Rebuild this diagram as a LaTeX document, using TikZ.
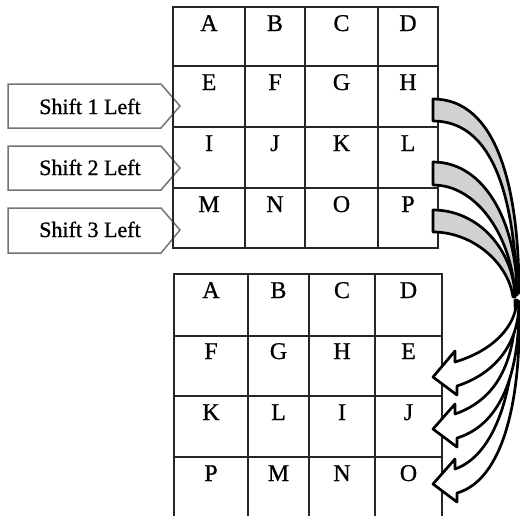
\documentclass[tikz,border=0pt]{standalone}
\usepackage{fontspec}
\setmainfont{Liberation Serif}
\newfontfamily\heavyserif[FakeBold=0.8]{Liberation Serif}
\begin{document}
\begin{tikzpicture}[x=1pt,y=-1pt,
 gridline/.style={draw=black!85,line width=1.3pt},
 cellletter/.style={font=\heavyserif\fontsize{24}{26}\selectfont, inner sep=0pt, anchor=base},
 shiftbox/.style={draw=black!55,line width=1.5pt,line join=miter},
 shifttext/.style={font=\heavyserif\fontsize{22}{24}\selectfont, inner sep=0pt, anchor=base},
 backband/.style={draw=black,line width=2.7pt,fill=black!18,line join=round},
 frontband/.style={draw=black,line width=2.7pt,fill=white,line join=round}]
\useasboundingbox (0,0) rectangle (520,515);

% shift labels
\draw[shiftbox] (8,84) -- (161,84) -- (180,106) -- (161,128) -- (8,128) -- cycle;
\draw[shiftbox] (8,146) -- (161,146) -- (180,168) -- (161,190) -- (8,190) -- cycle;
\draw[shiftbox] (8,208) -- (161,208) -- (180,230) -- (161,253) -- (8,253) -- cycle;
\node[shifttext] (s1) at (90,114) {Shift 1 Left};
\node[shifttext] (s2) at (90,175) {Shift 2 Left};
\node[shifttext] (s3) at (90,237) {Shift 3 Left};

% top grid
\draw[gridline] (173,7) rectangle (438,248);
\foreach \x in {245,305,378} \draw[gridline] (\x,7) -- (\x,248);
\foreach \y in {66,127,188} \draw[gridline] (173,\y) -- (438,\y);

% bottom grid
\draw[gridline] (174,530) -- (174,274) -- (442,274) -- (442,530);
\foreach \x in {248,309,375} \draw[gridline] (\x,274) -- (\x,530);
\foreach \y in {336,396,457} \draw[gridline] (174,\y) -- (442,\y);

% top letters
\foreach \c/\x in {0/209,1/275,2/341.5,3/408}{
  \foreach \r/\y in {0/31,1/90,2/151,3/212}{
    \pgfmathtruncatemacro{\idx}{\r*4+\c}
    \ifcase\idx \def\L{A}\or \def\L{B}\or \def\L{C}\or \def\L{D}\or
      \def\L{E}\or \def\L{F}\or \def\L{G}\or \def\L{H}\or
      \def\L{I}\or \def\L{J}\or \def\L{K}\or \def\L{L}\or
      \def\L{M}\or \def\L{N}\or \def\L{O}\or \def\L{P}\fi
    \node[cellletter] (t\idx) at (\x,\y) {\L};
  }
}
% bottom letters
\foreach \c/\x in {0/211,1/278.5,2/342,3/408.5}{
  \foreach \r/\y in {0/298,1/359,2/420,3/481}{
    \pgfmathtruncatemacro{\idx}{\r*4+\c}
    \ifcase\idx \def\L{A}\or \def\L{B}\or \def\L{C}\or \def\L{D}\or
      \def\L{F}\or \def\L{G}\or \def\L{H}\or \def\L{E}\or
      \def\L{K}\or \def\L{L}\or \def\L{I}\or \def\L{J}\or
      \def\L{P}\or \def\L{M}\or \def\L{N}\or \def\L{O}\fi
    \node[cellletter] (b\idx) at (\x,\y) {\L};
  }
}

% curved block arrows: back (grey) parts
\draw[backband] (433,99) .. controls (496,99) and (519,185) .. (519,293) -- (517,293)
  .. controls (514,185) and (488,121) .. (433,121) -- cycle;
\draw[backband] (433,162) .. controls (486,162) and (517,225) .. (517,295) -- (515,295)
  .. controls (512,238) and (478,185) .. (433,185) -- cycle;
\draw[backband] (433,210) .. controls (480,210) and (514,252) .. (515,297) -- (513,297)
  .. controls (508,262) and (472,232) .. (433,232) -- cycle;

% front (white) parts with heads
\draw[frontband] (515,300) .. controls (517,390) and (495,455) .. (455,469) -- (455,459)
  -- (433,484) -- (457,502) -- (457,493) .. controls (503,480) and (522,400) .. (519,302) -- cycle;
\draw[frontband] (516,300) .. controls (516,365) and (495,400) .. (455,414) -- (455,404)
  -- (433,429) -- (457,447) -- (457,438) .. controls (500,425) and (520,375) .. (519,302) -- cycle;
\draw[frontband] (517,300) .. controls (516,325) and (495,350) .. (455,362) -- (455,351)
  -- (433,377) -- (457,395) -- (457,386) .. controls (494,374) and (519,345) .. (519,302) -- cycle;
\end{tikzpicture}
\end{document}
